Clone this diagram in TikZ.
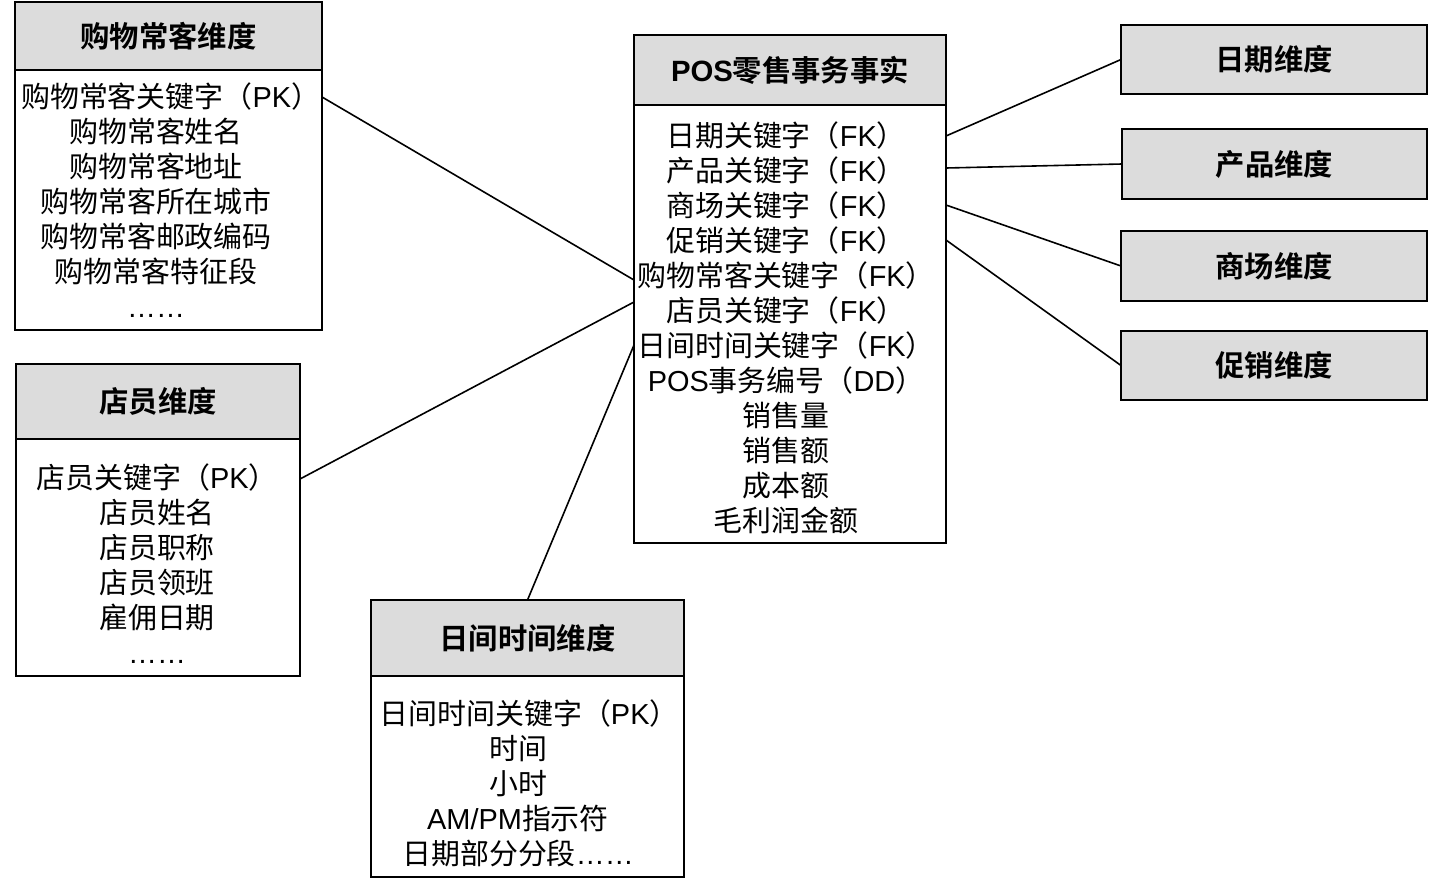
\documentclass[tikz,border=0pt]{standalone}
\usepackage{fontspec}
\setmainfont{Noto Sans CJK SC}[BoldFont={Noto Sans CJK SC Bold}]
\newfontfamily\latf{Liberation Sans}
\newcommand\lt[1]{{\latf #1}}
\definecolor{hdrgray}{RGB}{220,220,220}
\begin{document}
\begin{tikzpicture}[x=0.75pt,y=-0.75pt,
  box/.style={draw=black, line width=1.5pt, inner sep=0pt, outer sep=0pt, rectangle, anchor=north west},
  hdr/.style={box, fill=hdrgray, font=\bfseries\fontsize{22pt}{26pt}\selectfont},
  bodytext/.style={inner sep=0pt, align=center, font=\fontsize{21.7pt}{26.25pt}\selectfont},
  link/.style={draw=black, line width=1.2pt}]
\fill[white] (0,0) rectangle (1430,889);
\useasboundingbox (0,0) rectangle (1430,889);

% customer dimension
\node[hdr, minimum width=230.25pt, minimum height=51pt] (custh) at (15,2) {购物常客维度};
\node[box, minimum width=230.25pt, minimum height=195pt] (custb) at (custh.south west) {};
\node[bodytext] (custt) at (156,200) {\hspace*{22pt}购物常客关键字（\lt{PK}）\\购物常客姓名\\购物常客地址\\购物常客所在城市\\购物常客邮政编码\\购物常客特征段\\\lt{……}};

% staff dimension
\node[hdr, minimum width=213pt, minimum height=56.25pt] (staffh) at (16,364) {店员维度};
\node[box, minimum width=213pt, minimum height=177.75pt] (staffb) at (staffh.south west) {};
\node[bodytext] (stafft) at (157,564) {店员关键字（\lt{PK}）\\店员姓名\\店员职称\\店员领班\\雇佣日期\\\lt{……}};

% time of day dimension
\node[hdr, minimum width=234.75pt, minimum height=57pt] (timeh) at (371,600) {日间时间维度};
\node[box, minimum width=234.75pt, minimum height=150.75pt] (timeb) at (timeh.south west) {};
\node[bodytext] (timet) at (518,783) {\hspace*{16.5pt}日间时间关键字（\lt{PK}）\\时间\\小时\\\lt{AM/PM}指示符\\日期部分分段\lt{……}};

% fact table
\node[hdr, minimum width=234pt, minimum height=52.5pt] (facth) at (634,35) {\lt{POS}零售事务事实};
\node[box, minimum width=234pt, minimum height=328.5pt] (factb) at (facth.south west) {};
\node[bodytext] (factt) at (786,328) {日期关键字（\lt{FK}）\\产品关键字（\lt{FK}）\\商场关键字（\lt{FK}）\\促销关键字（\lt{FK}）\\购物常客关键字（\lt{FK}）\\店员关键字（\lt{FK}）\\日间时间关键字（\lt{FK}）\\\lt{POS}事务编号（\lt{DD}）\\销售量\\销售额\\成本额\\毛利润金额};

% right dimensions
\node[hdr, minimum width=229.5pt, minimum height=51.75pt] (dateh) at (1121,25) {日期维度};
\node[hdr, minimum width=228.75pt, minimum height=52.5pt] (prodh) at (1122,129) {产品维度};
\node[hdr, minimum width=229.5pt, minimum height=52.5pt] (storeh) at (1121,231) {商场维度};
\node[hdr, minimum width=229.5pt, minimum height=51.75pt] (promoh) at (1121,331) {促销维度};

% connectors
\draw[link] ([yshift=-20.25pt]custb.north east) -- ([yshift=-131.25pt]factb.north west);
\draw[link] ([yshift=-30pt]staffb.north east) -- ([yshift=-147.75pt]factb.north west);
\draw[link] (timeh.north) -- ([yshift=-180pt]factb.north west);
\draw[link] ([yshift=-23.25pt]factb.north east) -- (dateh.west);
\draw[link] ([yshift=-47.25pt]factb.north east) -- (prodh.west);
\draw[link] ([yshift=-75pt]factb.north east) -- (storeh.west);
\draw[link] ([yshift=-101.25pt]factb.north east) -- (promoh.west);
\end{tikzpicture}
\end{document}
